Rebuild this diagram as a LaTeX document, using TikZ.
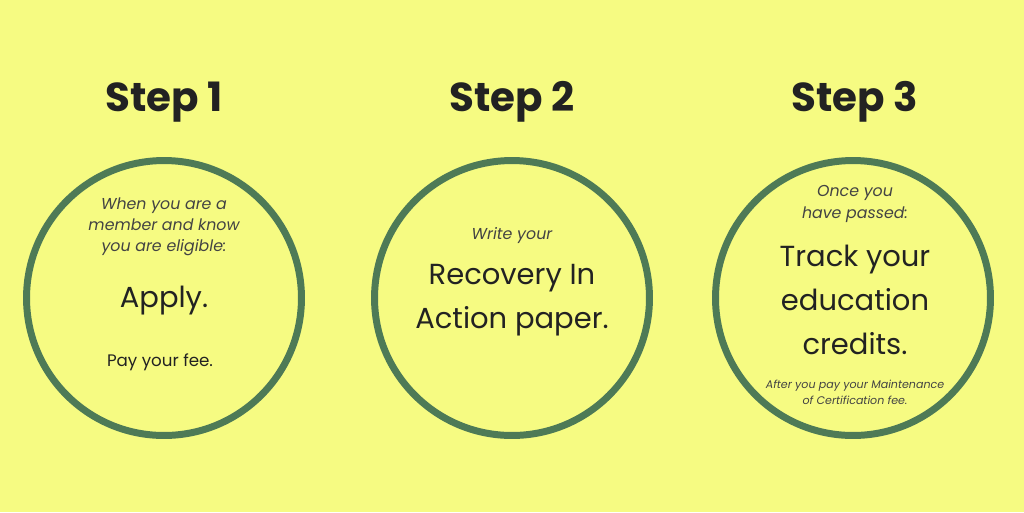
\documentclass[tikz,border=0pt]{standalone}
\usepackage{fontspec}
\setmainfont{Poppins}
\definecolor{bg}{HTML}{F6FB82}
\definecolor{ring}{HTML}{4E7A56}
\definecolor{ink}{HTML}{222222}
\begin{document}
\begin{tikzpicture}[x=0.02cm,y=-0.02cm,
  ringc/.style={draw=ring,line width=7*0.567pt,circle,minimum size=276*0.567pt,inner sep=0pt},
  title/.style={font=\fontsize{23}{26}\selectfont\bfseries,text=ink},
  small/.style={font=\fontsize{9}{12}\selectfont\itshape,text=ink!85,align=center},
  big/.style={font=\fontsize{16.5}{25}\selectfont,text=ink,align=center},
  mid/.style={font=\fontsize{9.5}{12}\selectfont,text=ink,align=center},
  tiny/.style={font=\fontsize{6.3}{9}\selectfont\itshape,text=ink!85,align=center}]
\fill[bg] (0,0) rectangle (1024,512);
\useasboundingbox (0,0) rectangle (1024,512);
\node[title] (t1) at (164,102) {Step 1};
\node[title] (t2) at (512,102) {Step 2};
\node[title] (t3) at (855,102) {Step 3};
\node[ringc] (c1) at (164,298) {};
\node[ringc] (c2) at (512,298) {};
\node[ringc] (c3) at (853,298) {};
\node[small] (a1) at (164,227) {When you are a\\member and know\\you are eligible:};
\node[big] (a2) at (164,301) {Apply.};
\node[mid] (a3) at (160,362) {Pay your fee.};
\node[small] (b1) at (512,236) {Write your};
\node[big] (b2) at (512,300) {Recovery In\\Action paper.};
\node[small] (d1) at (855,204) {Once you\\have passed:};
\node[big] (d2) at (855,300) {Track your\\education\\credits.};
\node[tiny] (d3) at (855,392) {After you pay your Maintenance\\of Certification fee.};
\end{tikzpicture}
\end{document}
